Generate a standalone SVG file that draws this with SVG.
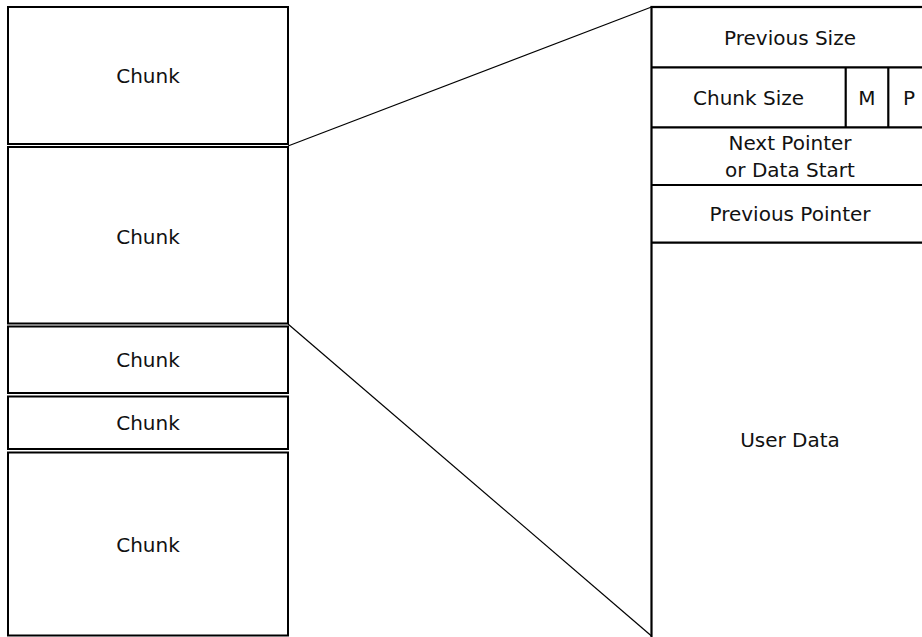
<svg xmlns="http://www.w3.org/2000/svg" width="922" height="637" viewBox="0 0 922 637">
  <style>
    .bg { fill: #ffffff; }
    .chunk { fill: #ffffff; stroke: #000000; stroke-width: 2; }
    .field { fill: none; stroke: #000000; stroke-width: 2.2; }
    .link { fill: none; stroke: #000000; stroke-width: 1.2; }
    .label { font-family: "DejaVu Sans", Verdana, sans-serif; font-size: 20px; fill: #111111; text-anchor: middle; }
  </style>
  <rect class="bg" x="0" y="0" width="922" height="637"/>

  <!-- heap: stack of chunks -->
  <g id="chunk-1">
    <rect class="chunk" x="8" y="7" width="280" height="137"/>
    <text class="label" x="148" y="83">Chunk</text>
  </g>
  <g id="chunk-2">
    <rect class="chunk" x="8" y="147" width="280" height="176.5"/>
    <text class="label" x="148" y="244">Chunk</text>
  </g>
  <g id="chunk-3">
    <rect class="chunk" x="8" y="326.5" width="280" height="66.5"/>
    <text class="label" x="148" y="367">Chunk</text>
  </g>
  <g id="chunk-4">
    <rect class="chunk" x="8" y="396.5" width="280" height="52.5"/>
    <text class="label" x="148" y="430">Chunk</text>
  </g>
  <g id="chunk-5">
    <rect class="chunk" x="8" y="452.5" width="280" height="183"/>
    <text class="label" x="148" y="552">Chunk</text>
  </g>

  <!-- expansion lines from the second chunk to its layout -->
  <g id="connectors">
    <line class="link" x1="288" y1="146" x2="651.5" y2="7"/>
    <line class="link" x1="288" y1="324" x2="651.5" y2="636"/>
  </g>

  <!-- chunk layout -->
  <g id="chunk-layout">
    <rect class="field" x="651.5" y="7" width="300" height="700"/>
  </g>
  <g id="field-prev-size">
    <line class="field" x1="651.5" y1="67.3" x2="930" y2="67.3"/>
    <text class="label" x="790" y="44.5">Previous Size</text>
  </g>
  <g id="field-chunk-size">
    <line class="field" x1="651.5" y1="127.3" x2="930" y2="127.3"/>
    <line class="field" x1="845.7" y1="67.3" x2="845.7" y2="127.3"/>
    <text class="label" x="748.5" y="104.5">Chunk Size</text>
  </g>
  <g id="field-m">
    <line class="field" x1="888.3" y1="67.3" x2="888.3" y2="127.3"/>
    <text class="label" x="867" y="104.5">M</text>
  </g>
  <g id="field-p">
    <text class="label" x="909" y="104.5">P</text>
  </g>
  <g id="field-next-ptr">
    <line class="field" x1="651.5" y1="185" x2="930" y2="185"/>
    <text class="label" x="790" y="150">Next Pointer</text>
    <text class="label" x="790" y="177">or Data Start</text>
  </g>
  <g id="field-prev-ptr">
    <line class="field" x1="651.5" y1="242.7" x2="930" y2="242.7"/>
    <text class="label" x="790" y="221">Previous Pointer</text>
  </g>
  <g id="field-user-data">
    <text class="label" x="790" y="447">User Data</text>
  </g>
</svg>
